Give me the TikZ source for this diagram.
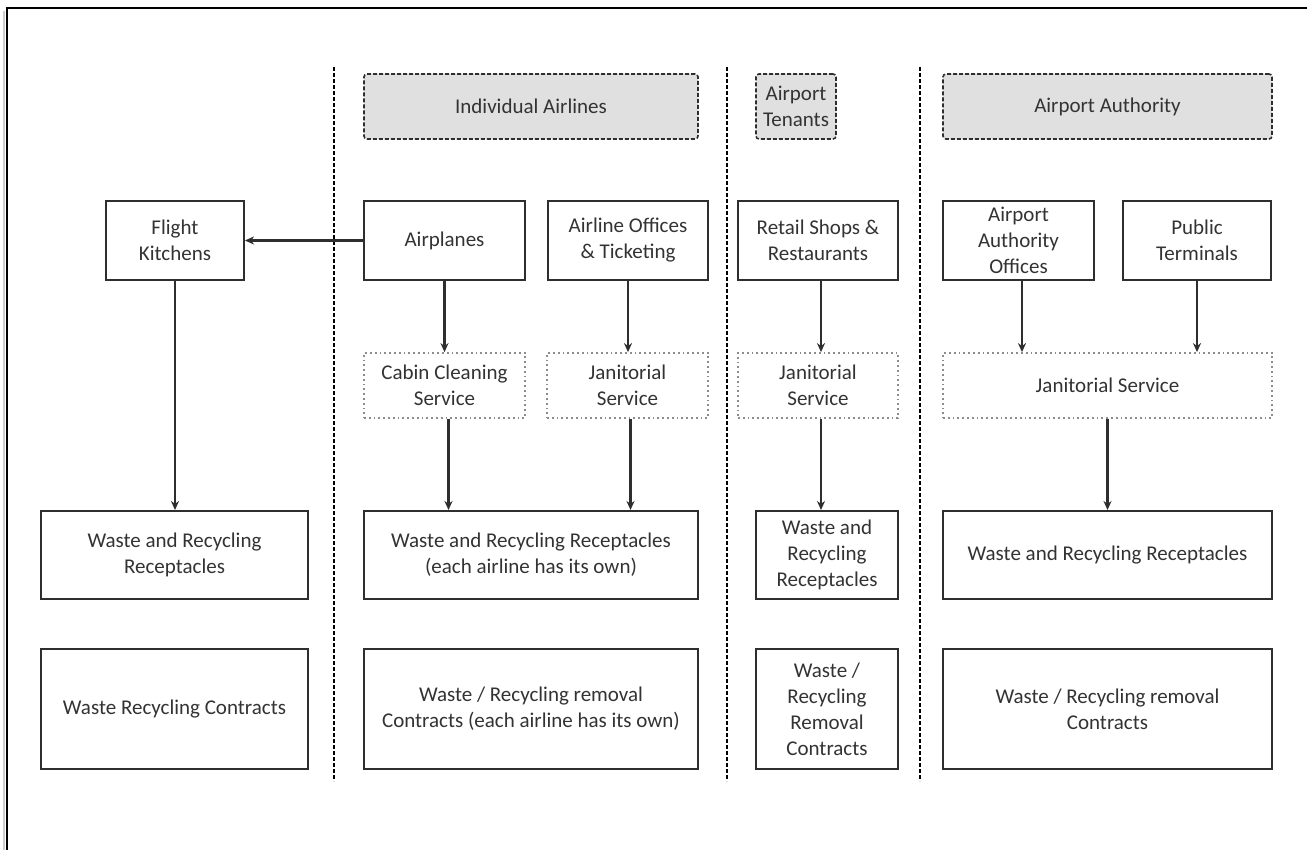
\documentclass[tikz,border=0pt]{standalone}
\usepackage{fontspec}
\setmainfont{Carlito}
\usetikzlibrary{arrows.meta}
\definecolor{txt}{HTML}{333333}
\definecolor{ln}{HTML}{2E2E2E}
\definecolor{hdrfill}{HTML}{E0E0E0}
\begin{document}
\begin{tikzpicture}[x=1pt,y=-1pt,
  base/.style={align=center, inner sep=0pt, text=txt, font=\fontsize{21}{26}\selectfont},
  solidbox/.style={base, draw=ln, line width=2pt},
  dotbox/.style={base, draw=gray!90, line width=1.8pt, dash pattern=on 1.8pt off 3pt},
  hdrbox/.style={base, draw=ln, fill=hdrfill, line width=1.6pt, dash pattern=on 4pt off 2pt, rounded corners=3pt},
  sepline/.style={draw=black, line width=2pt, dash pattern=on 4pt off 2pt},
  arr/.style={draw=ln, line width=2.3pt, -{Stealth[length=9pt,width=8pt]}},
  dims/.style 2 args={minimum width=#1pt, minimum height=#2pt}
]
\useasboundingbox (0,0) rectangle (1307,850);
\fill[white] (0,0) rectangle (1307,850);
% outer frame
\draw[gray!40, line width=2pt] (4,850) -- (4,11);
\draw[black, line width=2.2pt] (7,850) -- (7,8) -- (1307,8);

% separators
\coordinate (s1t) at (334,67);  \coordinate (s1b) at (334,781);
\coordinate (s2t) at (727,67);  \coordinate (s2b) at (727,781);
\coordinate (s3t) at (920,67);  \coordinate (s3b) at (920,781);
\draw[sepline] (s1t) -- (s1b);
\draw[sepline] (s2t) -- (s2b);
\draw[sepline] (s3t) -- (s3b);

% headers
\node[hdrbox, dims={334}{65}] (hIA) at (531,106.5) {Individual Airlines};
\node[hdrbox, dims={80}{65}]  (hAT) at (796,106.5) {Airport\\Tenants};
\node[hdrbox, dims={329}{65}] (hAA) at (1107.5,106.5) {Airport Authority};

% row 1
\node[solidbox, dims={138}{79}] (fk)  at (175,240.5) {Flight\\Kitchens};
\node[solidbox, dims={161}{79}] (ap)  at (444.5,240.5) {Airplanes};
\node[solidbox, dims={160}{79}] (ao)  at (628,240.5) {Airline Offices\\\& Ticketing};
\node[solidbox, dims={160}{79}] (rs)  at (818,240.5) {Retail Shops \&\\Restaurants};
\node[solidbox, dims={151}{79}] (aao) at (1018.5,240.5) {Airport\\Authority\\Offices};
\node[solidbox, dims={148}{79}] (pt)  at (1197,240.5) {Public\\Terminals};

% row 2
\node[dotbox, dims={161}{65}] (cc)  at (444.5,385.5) {Cabin Cleaning\\Service};
\node[dotbox, dims={161}{65}] (js1) at (627.5,385.5) {Janitorial\\Service};
\node[dotbox, dims={160}{65}] (js2) at (818,385.5) {Janitorial\\Service};
\node[dotbox, dims={329}{65}] (js3) at (1107.5,385.5) {Janitorial Service};

% row 3
\node[solidbox, dims={267}{88}] (r0) at (174.5,555) {Waste and Recycling\\Receptacles};
\node[solidbox, dims={334}{88}] (r1) at (531,555) {Waste and Recycling Receptacles\\(each airline has its own)};
\node[solidbox, dims={142}{88}] (r2) at (827,555) {Waste and\\Recycling\\Receptacles};
\node[solidbox, dims={329}{88}] (r3) at (1107.5,555) {Waste and Recycling Receptacles};

% row 4
\node[solidbox, dims={267}{120}] (c0) at (174.5,709) {Waste Recycling Contracts};
\node[solidbox, dims={334}{120}] (c1) at (531,709) {Waste / Recycling removal\\Contracts (each airline has its own)};
\node[solidbox, dims={142}{120}] (c2) at (827,709) {Waste /\\Recycling\\Removal\\Contracts};
\node[solidbox, dims={329}{120}] (c3) at (1107.5,709) {Waste / Recycling removal\\Contracts};

% arrows
\draw[arr] (ap.west) -- (fk.east);
\draw[arr] (fk.south) -- (fk.south |- r0.north);
\draw[arr] (ap.south) -- (ap.south |- cc.north);
\draw[arr] (ao.south) -- (ao.south |- js1.north);
\draw[arr] ([xshift=4pt]cc.south) -- ([xshift=4pt]cc.south |- r1.north);
\draw[arr] ([xshift=3pt]js1.south) -- ([xshift=3pt]js1.south |- r1.north);
\draw[arr] ([xshift=3pt]rs.south) -- ([xshift=3pt]rs.south |- js2.north);
\draw[arr] ([xshift=3pt]js2.south) -- ([xshift=3pt]js2.south |- r2.north);
\draw[arr] ([xshift=3.5pt]aao.south) -- ([xshift=3.5pt]aao.south |- js3.north);
\draw[arr] (pt.south) -- (pt.south |- js3.north);
\draw[arr] (js3.south) -- (js3.south |- r3.north);
\end{tikzpicture}
\end{document}
